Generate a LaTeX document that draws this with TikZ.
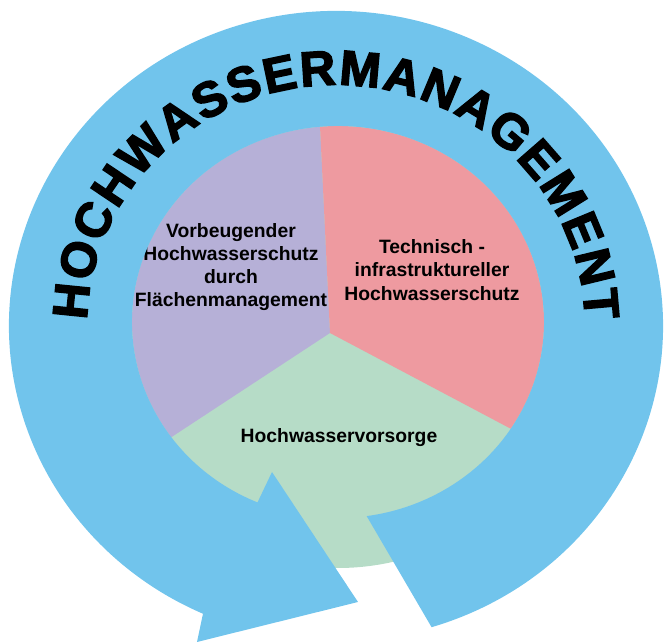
\documentclass[tikz,border=0pt]{standalone}
\usepackage{fontspec}
\setmainfont{Liberation Sans}
\newfontfamily\titlefont[FakeBold=3]{Liberation Sans Bold}
\usepackage{tikz}
\usetikzlibrary{decorations.text}

\definecolor{ringblue}{RGB}{113,196,236}
\definecolor{purplefill}{RGB}{182,176,215}
\definecolor{redfill}{RGB}{238,154,160}
\definecolor{greenfill}{RGB}{182,220,199}

\begin{document}
\begin{tikzpicture}[x=0.02cm,y=0.02cm]
    \tikzset{
      sectorlabel/.style={align=center,inner sep=0pt,font=\bfseries\fontsize{11}{13.2}\selectfont},
      ringarrow/.style={fill=ringblue},
      titlepath/.style={decorate,decoration={text along path,text align=fit to path,
        text={|\titlefont\fontsize{28}{28}\selectfont|HOCHWASSERMANAGEMENT}}}
    }
    \useasboundingbox (-338,-321) rectangle (326,322);

    % pie, green part underneath
    \coordinate (hub) at (-8,-11);
    \fill[greenfill] (0,0) circle[radius=246];
    \fill[purplefill] (hub) -- (95:206 and 196) arc[start angle=95,end angle=216,x radius=206,y radius=196] -- cycle;
    \fill[redfill] (hub) -- (-33:206 and 196) arc[start angle=-33,end angle=95,x radius=206,y radius=196] -- cycle;

    \node[sectorlabel](vorbeugend) at (-107,55){Vorbeugender\\Hochwasserschutz\\durch\\Flächenmanagement};
    \node[sectorlabel](technisch) at (94,52){Technisch -\\infrastruktureller\\Hochwasserschutz};
    \node[sectorlabel](vorsorge) at (1,-116){Hochwasservorsorge};

    % ring arrow
    \coordinate (tailout) at (93.6,-305.2);
    \coordinate (barbout) at (-141,-320);
    \coordinate (headtip) at (20,-280);
    \coordinate (barbin) at (-66,-150);
    \fill[ringarrow] (tailout) arc[start angle=-73,end angle=246,x radius=327,y radius=315]
      -- (barbout) -- (headtip) -- (barbin)
      -- (247:206 and 196) arc[start angle=247,end angle=-82,x radius=206,y radius=196] -- cycle;

    \path[titlepath] (-250.9,1.9) arc[start angle=178.6,end angle=1.4,x radius=249,y radius=241];
\end{tikzpicture}
\end{document}
